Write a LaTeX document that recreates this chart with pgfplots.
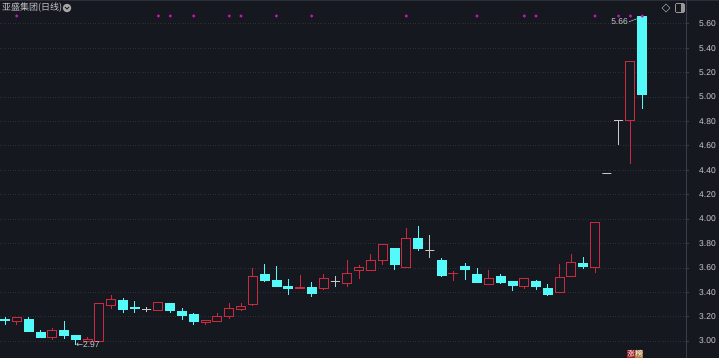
\documentclass[border=0pt]{standalone}
\usepackage{pgfplots}
\pgfplotsset{compat=1.18}
\usepackage{pgfplotstable}
\usepackage{fontspec}
\setmainfont{Liberation Sans}
\newfontfamily\cjk{Noto Sans CJK SC}
\newfontfamily\dejavu{DejaVu Sans}
\definecolor{bg}{RGB}{22,24,32}
\definecolor{cred}{RGB}{204,40,62}
\definecolor{ccyan}{RGB}{84,250,250}
\definecolor{cgray}{RGB}{200,200,200}
\definecolor{gridc}{RGB}{44,47,58}
\definecolor{axisc}{RGB}{58,61,72}
\definecolor{labc}{RGB}{200,200,204}
\definecolor{cmag}{RGB}{200,20,200}
\definecolor{zhang}{RGB}{150,28,36}
\definecolor{bang}{RGB}{170,120,60}

\pgfplotstableread{
i o h l c
0 3.18 3.20 3.13 3.17
1 3.16 3.19 3.13 3.19
2 3.18 3.20 3.07 3.08
3 3.07 3.09 3.03 3.03
4 3.03 3.11 3.01 3.09
5 3.09 3.16 3.02 3.05
6 3.05 3.05 2.97 3.01
7 3.00 3.03 2.99 3.01
8 3.00 3.31 2.99 3.31
9 3.29 3.38 3.26 3.34
10 3.33 3.35 3.23 3.26
11 3.28 3.33 3.23 3.27
12 3.26 3.28 3.235 3.26
13 3.25 3.32 3.25 3.32
14 3.31 3.31 3.23 3.25
15 3.24 3.27 3.17 3.21
16 3.22 3.23 3.13 3.16
17 3.15 3.17 3.13 3.17
18 3.16 3.23 3.16 3.20
19 3.20 3.31 3.18 3.27
20 3.26 3.31 3.25 3.28
21 3.30 3.60 3.29 3.53
22 3.55 3.63 3.48 3.50
23 3.50 3.615 3.44 3.45
24 3.45 3.51 3.38 3.43
25 3.43 3.54 3.43 3.435
26 3.44 3.48 3.36 3.39
27 3.43 3.55 3.415 3.51
28 3.49 3.53 3.44 3.49
29 3.47 3.665 3.44 3.555
30 3.58 3.62 3.51 3.60
31 3.58 3.71 3.58 3.66
32 3.66 3.79 3.62 3.79
33 3.76 3.76 3.58 3.63
34 3.60 3.93 3.595 3.84
35 3.84 3.945 3.74 3.76
36 3.74 3.87 3.68 3.74
37 3.66 3.68 3.525 3.54
38 3.55 3.575 3.49 3.555
39 3.61 3.64 3.50 3.59
40 3.55 3.595 3.475 3.48
41 3.46 3.58 3.455 3.51
42 3.53 3.55 3.47 3.48
43 3.49 3.49 3.41 3.46
44 3.45 3.51 3.43 3.51
45 3.49 3.50 3.42 3.45
46 3.43 3.47 3.37 3.38
47 3.40 3.63 3.40 3.52
48 3.53 3.71 3.525 3.64
49 3.64 3.69 3.59 3.61
50 3.60 3.97 3.555 3.97
51 4.37 4.37 4.37 4.37
52 4.81 4.81 4.61 4.81
53 4.81 5.29 4.45 5.29
54 5.66 5.66 4.90 5.02
}\kdata

\begin{document}
\begin{tikzpicture}[x=1pt,y=1pt]
\useasboundingbox (0,0) rectangle (719,358);
\fill[bg] (0,0) rectangle (719,358);
\draw[gridc, line width=0.8pt] (0,357.5) -- (719,357.5);
\begin{axis}[
  at={(0,0)}, anchor=south west,
  scale only axis, width=686pt, height=358pt,
  xmin=-0.4237, xmax=57.71, ymin=2.8607, ymax=5.7951,
  axis x line=none, axis y line*=right,
  axis line style={axisc, line width=0.7pt},
  clip=false,
  ytick={3.0,3.2,3.4,3.6,3.8,4.0,4.2,4.4,4.6,4.8,5.0,5.2,5.4,5.6},
  /pgf/number format/fixed, /pgf/number format/fixed zerofill,
  /pgf/number format/precision=2, /pgf/number format/assume math mode=true,
  yticklabel style={anchor=west, inner sep=0pt, xshift=10pt, text=labc, font=\fontsize{8.5}{10}\selectfont},
  tick align=outside, major tick length=3pt, tick style={axisc, line width=0.6pt},
  ymajorgrids, major grid style={gridc, line width=0.6pt, dash pattern=on 1pt off 1.5pt},
  wickup/.style={draw=cred, line width=0.9pt},
  wickdown/.style={draw=ccyan, line width=0.9pt},
  wickflat/.style={draw=cgray, line width=0.9pt},
  bodyup/.style={draw=cred, fill=bg, line width=0.9pt},
  bodydown/.style={draw=ccyan, fill=ccyan, line width=0.6pt},
  bodyflat/.style={draw=cgray, line width=0.9pt},
]
\pgfplotsforeachungrouped \k in {0,...,54}{%
  \pgfplotstablegetelem{\k}{o}\of\kdata \let\O\pgfplotsretval
  \pgfplotstablegetelem{\k}{h}\of\kdata \let\H\pgfplotsretval
  \pgfplotstablegetelem{\k}{l}\of\kdata \let\L\pgfplotsretval
  \pgfplotstablegetelem{\k}{c}\of\kdata \let\C\pgfplotsretval
  \pgfmathsetmacro\xa{\k-0.38}%
  \pgfmathsetmacro\xb{\k+0.38}%
  \ifdim\C pt>\O pt \def\kind{up}\else\ifdim\C pt<\O pt \def\kind{down}\else\def\kind{flat}\fi\fi
  \edef\cmd{%
    \noexpand\addplot[wick\kind] coordinates {(\k,\L) (\k,\H)};
    \noexpand\addplot[body\kind] coordinates {(\xa,\O) (\xb,\O) (\xb,\C) (\xa,\C)} -- cycle;
  }%
  \cmd
}
\addplot[only marks, mark=*, mark size=1.3pt, cmag] coordinates {
(1,5.664) (13,5.664) (14,5.664) (16,5.664) (19,5.664) (20,5.664) (23,5.664) (26,5.664)
(34,5.664) (40,5.664) (44,5.664) (45,5.664) (50,5.664) (52,5.664) (53,5.664) (54,5.664)};
\draw[labc, line width=0.5pt] (axis cs:52.88,5.617) -- (axis cs:53.95,5.655);
\node[anchor=east, inner sep=1pt, text=labc, font=\fontsize{8.5}{10}\selectfont] at (axis cs:52.88,5.617) {5.66};
\node[anchor=west, inner sep=0pt, text=labc, font=\fontsize{8.5}{10}\selectfont] at (axis cs:6.0,2.97) {{\dejavu ←}2.97};
\end{axis}
\node[anchor=west, inner sep=0pt, text=labc, font=\cjk\fontsize{9}{11}\selectfont] at (2,350) {亚盛集团(日线)};
\fill[gray!70] (67,350) circle (4.3);
\draw[bg, line width=0.8pt] (65,351) -- (67,349) -- (69,351);
\draw[gray!80, line width=0.6pt] (666,354) -- (670,350) -- (666,346) -- (662,350) -- cycle;
\draw[gray!80, line width=0.6pt, rounded corners=1pt] (675.5,345.5) rectangle (684.5,354.5);
\fill[gray!80] (681,346) rectangle (684,354);
\node[fill=zhang, text=white, inner sep=0.5pt, minimum width=8pt, minimum height=8.5pt, font=\cjk\fontsize{7.5}{8}\selectfont] at (631,4.2) {涨};
\node[fill=bang, text=white, inner sep=0.5pt, minimum width=8pt, minimum height=8.5pt, font=\cjk\fontsize{7.5}{8}\selectfont] at (639,4.2) {榜};
\end{tikzpicture}
\end{document}
